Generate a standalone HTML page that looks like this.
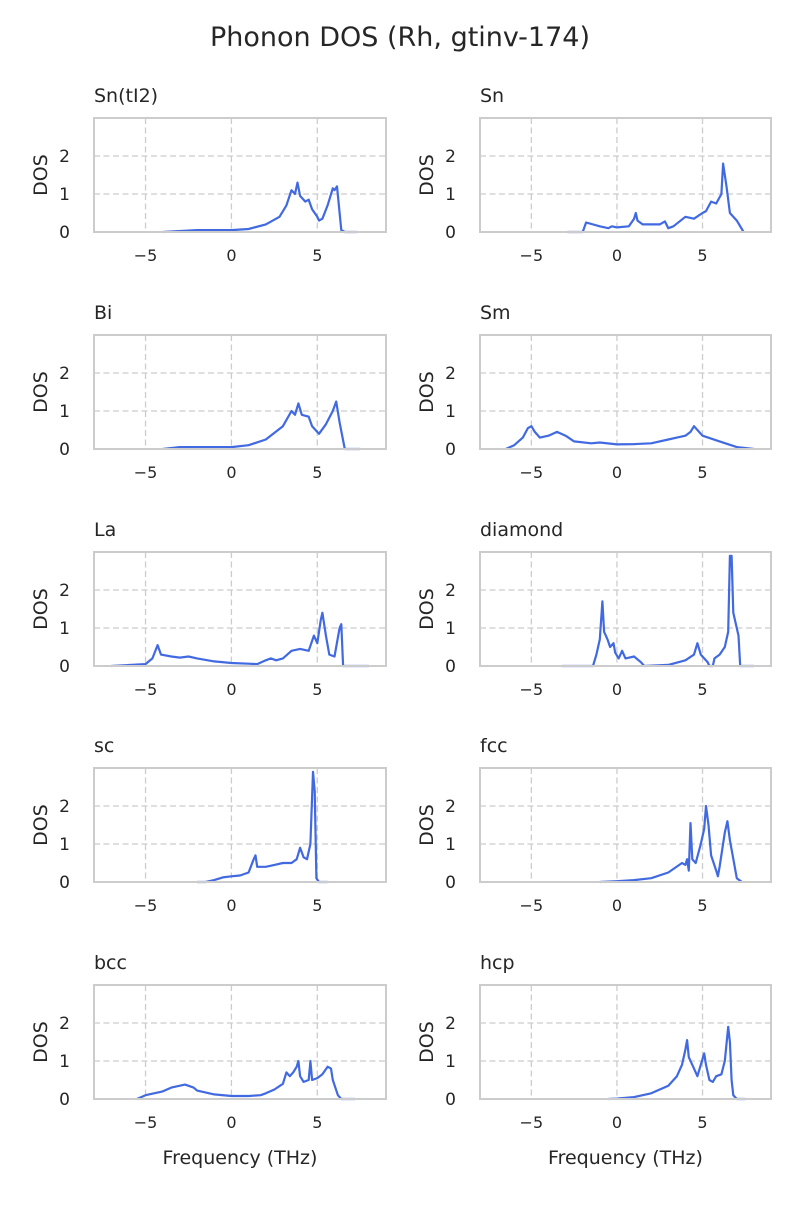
<!DOCTYPE html>
<html><head><meta charset="utf-8"><style>
body{margin:0;background:#fff;font-family:"Liberation Sans","DejaVu Sans",sans-serif;}
svg text{font-family:"DejaVu Sans","Liberation Sans",sans-serif;fill:#262626;}
</style></head><body>
<svg id="fig" width="800" height="1200" viewBox="0 0 800 1200">
<text x="400" y="46" font-size="27" text-anchor="middle">Phonon DOS (Rh, gtinv-174)</text>
</svg>
<script>
const panelNames = ["Sn(tI2)","Sn","Bi","Sm","La","diamond","sc","fcc","bcc","hcp"];
const xTicks = [-5,0,5];
const yTicks = [0,1,2];
const freqSnTI2 = [-4,-2,0,1,2,2.8,3.2,3.5,3.7,3.85,4.0,4.3,4.5,4.7,5.0,5.1,5.3,5.6,5.9,6.0,6.15,6.4,6.6,7.3];
const dosSnTI2 = [0,0.05,0.05,0.08,0.2,0.4,0.7,1.1,1.0,1.3,0.95,0.8,0.85,0.6,0.4,0.3,0.35,0.7,1.15,1.1,1.2,0.05,0,0];
const freqSn = [-2.9,-2,-1.8,-1,-0.5,-0.3,0,0.7,1.0,1.1,1.2,1.5,2.5,2.8,3.0,3.3,4.0,4.5,5.0,5.2,5.5,5.8,6.1,6.2,6.4,6.6,7.0,7.4];
const dosSn = [0,0,0.25,0.15,0.1,0.15,0.12,0.15,0.35,0.5,0.3,0.2,0.2,0.28,0.1,0.15,0.4,0.35,0.5,0.55,0.8,0.75,1.0,1.8,1.2,0.5,0.3,0];
const freqBi = [-4,-3,0,1,2,3,3.5,3.7,3.9,4.1,4.5,4.7,5.1,5.5,5.9,6.1,6.3,6.6,7.5];
const dosBi = [0,0.05,0.05,0.1,0.25,0.6,1.0,0.9,1.2,0.9,0.85,0.6,0.4,0.65,1.0,1.25,0.7,0,0];
const freqSm = [-6.5,-6,-5.5,-5.2,-5,-4.8,-4.5,-4,-3.5,-3,-2.5,-1.5,-1,0,1,2,3,3.5,4,4.3,4.5,4.8,5,6,7,8];
const dosSm = [0,0.1,0.3,0.55,0.6,0.45,0.3,0.35,0.45,0.35,0.2,0.15,0.17,0.12,0.13,0.15,0.25,0.3,0.35,0.45,0.6,0.45,0.35,0.2,0.05,0];
const freqLa = [-7,-5,-4.6,-4.3,-4.1,-3.5,-3,-2.5,-2,-1,0,1,1.5,2,2.3,2.6,3,3.5,4,4.5,4.8,5.0,5.2,5.3,5.5,5.7,6.0,6.3,6.4,6.5,8];
const dosLa = [0,0.05,0.2,0.55,0.3,0.25,0.22,0.25,0.2,0.12,0.08,0.06,0.05,0.15,0.2,0.15,0.2,0.4,0.45,0.4,0.8,0.6,1.2,1.4,0.8,0.3,0.25,1.0,1.1,0,0];
const freqDiamond = [-3.2,-1.4,-1.2,-1.0,-0.85,-0.75,-0.55,-0.4,-0.2,-0.1,0.1,0.3,0.5,1,1.4,1.6,3,4,4.5,4.7,4.9,5.3,5.4,5.6,5.7,6.0,6.3,6.5,6.6,6.7,6.8,7.1,7.2,8];
const dosDiamond = [0,0,0.3,0.7,1.7,0.9,0.7,0.5,0.6,0.35,0.2,0.4,0.2,0.25,0.1,0,0.03,0.15,0.3,0.6,0.3,0.1,0,0,0.2,0.3,0.5,0.9,2.9,2.9,1.4,0.8,0,0];
const freqSc = [-2,-1.5,-1,-0.5,0,0.5,1,1.3,1.4,1.5,2,2.5,3,3.5,3.8,4.0,4.2,4.4,4.6,4.75,4.85,4.95,5.1,5.6];
const dosSc = [0,0,0.05,0.12,0.15,0.17,0.25,0.6,0.7,0.4,0.4,0.45,0.5,0.5,0.6,0.9,0.65,0.6,1.0,2.9,2.4,0.1,0,0];
const freqFcc = [-1,0,1,2,3,3.8,4.0,4.1,4.2,4.3,4.4,4.6,4.9,5.1,5.2,5.35,5.5,5.8,5.9,6.0,6.3,6.45,6.6,7.0,7.3];
const dosFcc = [0,0.02,0.05,0.1,0.25,0.5,0.45,0.6,0.3,1.55,0.6,0.5,1.0,1.4,2.0,1.5,0.7,0.3,0.15,0.4,1.3,1.6,1.1,0.1,0];
const freqBcc = [-5.5,-5,-4.5,-4,-3.5,-3,-2.7,-2.2,-2,-1,0,1,1.7,2,2.5,3.0,3.2,3.4,3.6,3.8,3.9,4.0,4.2,4.5,4.6,4.7,5.0,5.3,5.6,5.8,5.9,6.2,6.4,7.2];
const dosBcc = [0,0.1,0.15,0.2,0.3,0.35,0.38,0.3,0.22,0.12,0.08,0.08,0.1,0.15,0.25,0.4,0.7,0.6,0.7,0.85,1.0,0.6,0.45,0.5,1.0,0.5,0.55,0.65,0.85,0.8,0.5,0.1,0,0];
const freqHcp = [-0.5,0,1,2,3,3.5,3.8,4.0,4.1,4.2,4.5,4.7,4.9,5.1,5.2,5.4,5.6,5.8,6.1,6.3,6.5,6.6,6.7,6.8,7,7.5];
const dosHcp = [0,0.01,0.05,0.15,0.35,0.6,0.9,1.3,1.55,1.1,0.8,0.6,0.9,1.2,0.9,0.5,0.45,0.6,0.65,1.0,1.9,1.5,0.5,0.1,0,0];
const freqs = [freqSnTI2,freqSn,freqBi,freqSm,freqLa,freqDiamond,freqSc,freqFcc,freqBcc,freqHcp];
const doses = [dosSnTI2,dosSn,dosBi,dosSm,dosLa,dosDiamond,dosSc,dosFcc,dosBcc,dosHcp];

const NS="http://www.w3.org/2000/svg";
const svg=document.getElementById('fig');
function mk(tag,attrs,parent){const e=document.createElementNS(NS,tag);for(const k in attrs)e.setAttribute(k,attrs[k]);(parent||svg).appendChild(e);return e;}
const XMIN=-8,XMAX=9,YMIN=0,YMAX=3;
const lefts=[94,480],widths=[292,291],tops=[118,335,552,768,985],H=114;
panelNames.forEach((name,i)=>{
  const col=i%2,row=Math.floor(i/2);
  const L=lefts[col],W=widths[col],T=tops[row];
  const sx=v=>L+(v-XMIN)/(XMAX-XMIN)*W;
  const sy=v=>T+H-(v-YMIN)/(YMAX-YMIN)*H;
  const g=mk('g',{});
  
  
  xTicks.forEach(t=>{
    const l=mk('line',{x1:sx(t),x2:sx(t),y1:T,y2:T+H,stroke:'#cccccc','stroke-width':1.3,'stroke-dasharray':'6,3.5'},g);
    
    
    const tx=mk('text',{x:sx(t),y:T+H+29,'font-size':16,'text-anchor':'middle'},g);
    tx.textContent=(t<0?'\u2212'+Math.abs(t):String(t));
    
    
  });
  yTicks.forEach(t=>{
    if(t>0){const l=mk('line',{x1:L,x2:L+W,y1:sy(t),y2:sy(t),stroke:'#cccccc','stroke-width':1.3,'stroke-dasharray':'6,3.5'},g);
    
    }
    const ty=mk('text',{x:L-24,y:sy(t)+6,'font-size':17,'text-anchor':'end'},g);
    ty.textContent=String(t);
    
    
  });
  const fx=freqs[i],fy=doses[i];
  const d=fx.map((x,k)=>(k?'L':'M')+sx(x).toFixed(1)+','+sy(fy[k]).toFixed(1)).join(' ');
  const p=mk('path',{d:d,fill:'none',stroke:'#4169e1','stroke-width':2.2,'stroke-linejoin':'round'},g);
  
  
  const fr=mk('rect',{x:L,y:T,width:W,height:H,fill:'none',stroke:'#cccccc','stroke-width':2},g);
  
  
  const tt=mk('text',{x:L,y:T-16,'font-size':19},g);
  tt.textContent=name;
  
  
  const yl=mk('text',{x:0,y:0,'font-size':19,'text-anchor':'middle',transform:'translate('+(L-47)+','+(T+H/2)+') rotate(-90)'},g);
  yl.textContent='DOS';
  
  
  if(row===4){
    const xl=mk('text',{x:L+W/2,y:T+H+65,'font-size':19,'text-anchor':'middle'},g);
    xl.textContent='Frequency (THz)';
    
    
  }
});
</script>
</body></html>
